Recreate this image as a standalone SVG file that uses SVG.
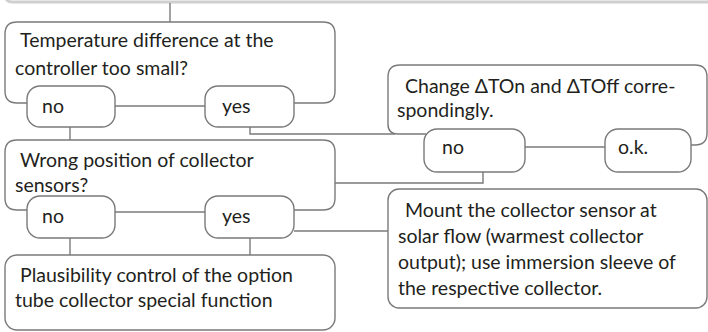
<svg xmlns="http://www.w3.org/2000/svg" width="708" height="332" viewBox="0 0 708 332">
<style>
.ln{fill:none;stroke:#7a7a7a;stroke-width:1.4}
.pill{fill:#fff;stroke:#7a7a7a;stroke-width:1.4}
text{font-family:Lato,"Open Sans","Liberation Sans",sans-serif;font-size:19.5px;fill:#231f20}
</style>
<rect width="708" height="332" fill="#fff"/>
<path d="M5,-6 Q5,2 13,2 H708" fill="none" stroke="#cfcfcf" stroke-width="3"/>
<g id="connectors">
<path class="ln" d="M170,3 V22"/>
<path class="ln" d="M115,106 H205"/>
<path class="ln" d="M70,127 V140"/>
<path class="ln" d="M250,127 V134 H395"/>
<path class="ln" d="M115,212 H205"/>
<path class="ln" d="M70,238 V255"/>
<path class="ln" d="M250,238 V255"/>
<path class="ln" d="M335,183 H483 V172"/>
<path class="ln" d="M294,231 H388"/>
<path class="ln" d="M525,147 H605"/>
</g>
<g id="n1">
<path class="ln" d="M28,103 H17 Q5,103 5,91 V34 Q5,22 17,22 H323 Q335,22 335,34 V91 Q335,103 323,103 H294"/>
<text x="20" y="47">Temperature difference at the</text>
<text x="15" y="75">controller too small?</text>
</g>
<g id="n1-no">
<rect class="pill" x="27" y="86" width="88" height="41" rx="13"/>
<text x="42" y="113">no</text>
</g>
<g id="n1-yes">
<rect class="pill" x="205" y="86" width="89" height="41" rx="13"/>
<text x="222" y="113">yes</text>
</g>
<g id="n2">
<path class="ln" d="M28,210 H17 Q5,210 5,198 V152 Q5,140 17,140 H323 Q335,140 335,152 V198 Q335,210 323,210 H294"/>
<text x="20" y="167">Wrong position of collector</text>
<text x="15" y="192">sensors?</text>
</g>
<g id="n2-no">
<rect class="pill" x="27" y="196" width="88" height="42" rx="13"/>
<text x="42" y="223">no</text>
</g>
<g id="n2-yes">
<rect class="pill" x="205" y="196" width="89" height="42" rx="13"/>
<text x="222" y="223">yes</text>
</g>
<g id="n3">
<path class="ln" d="M426,134 H398 Q388,134 388,124 V77 Q388,65 400,65 H695 Q707,65 707,77 V133 Q707,145 695,145 H690"/>
<text x="405" y="93">Change ΔTOn and ΔTOff corre-</text>
<text x="397" y="117">spondingly.</text>
</g>
<g id="n3-no">
<rect class="pill" x="424" y="129" width="101" height="43" rx="13"/>
<text x="442" y="154">no</text>
</g>
<g id="n3-ok">
<rect class="pill" x="605" y="129" width="86" height="43" rx="13"/>
<text x="618" y="154">o.k.</text>
</g>
<g id="n4">
<rect class="ln" x="5" y="255" width="330" height="75" rx="12"/>
<text x="20" y="282">Plausibility control of the option</text>
<text x="15" y="307">tube collector special function</text>
</g>
<g id="n5">
<rect class="ln" x="388" y="189" width="319" height="119" rx="11"/>
<text x="405" y="217">Mount the collector sensor at</text>
<text x="398" y="243">solar flow (warmest collector</text>
<text x="398" y="269">output); use immersion sleeve of</text>
<text x="398" y="295">the respective collector.</text>
</g>
</svg>
